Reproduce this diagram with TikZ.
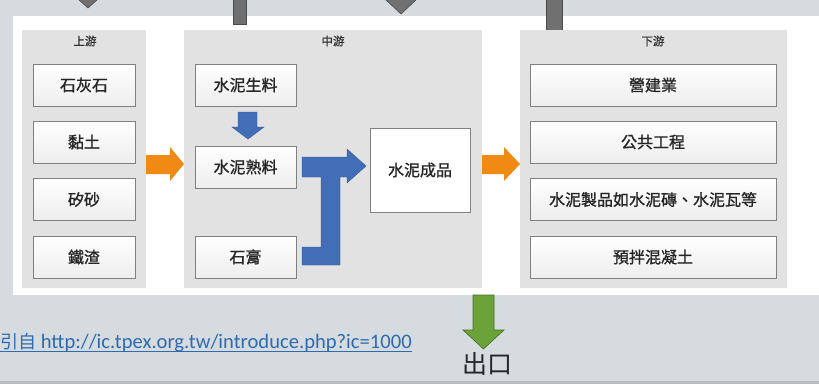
\documentclass[tikz,border=0pt]{standalone}
\usepackage{fontspec}
\newfontfamily\cjk{Noto Sans CJK TC}
\newfontfamily\cjkb[FakeBold=1.2]{Noto Sans CJK TC}
\newfontfamily\calib{Carlito}
\definecolor{bg}{HTML}{D6DBDF}
\definecolor{panel}{HTML}{E2E2E2}
\definecolor{boxline}{HTML}{808080}
\definecolor{orangeA}{HTML}{F08A14}
\definecolor{blueA}{HTML}{416EB6}
\definecolor{blueB}{HTML}{2F5A9A}
\definecolor{greenA}{HTML}{6BA33A}
\definecolor{greenB}{HTML}{40701F}
\definecolor{greyA}{HTML}{707070}
\definecolor{greyB}{HTML}{4A4A4A}
\definecolor{linkc}{HTML}{2E6BB0}
\definecolor{bottomline}{HTML}{B9BEC2}
\tikzset{
  panelbox/.style={fill=panel, draw=none, inner sep=0pt, outer sep=0pt},
  itembox/.style={draw=boxline, line width=0.8pt, top color=white, bottom color=black!7,
    font=\cjkb\fontsize{16}{16}\selectfont, text=black!85, inner sep=0pt, outer sep=0pt, minimum height=42pt},
  paneltitle/.style={font=\cjkb\fontsize{11.5}{11.5}\selectfont, text=black!80, inner sep=0pt},
  orangearrow/.style={fill=orangeA, draw=none},
  bluearrow/.style={fill=blueA, draw=blueB, line width=0.4pt},
  greenarrow/.style={fill=greenA, draw=greenB, line width=0.6pt},
  greymark/.style={fill=greyA, draw=greyB, line width=0.6pt}
}
\begin{document}
\begin{tikzpicture}[x=1pt,y=-1pt]
\useasboundingbox (0,0) rectangle (819,383);
\clip (0,0) rectangle (819,383);
% backgrounds
\fill[bg] (0,0) rectangle (819,383);
\fill[white] (13,16) rectangle (820,295);
\fill[bottomline] (0,381) rectangle (819,384);
% top grey marks
\draw[greymark] (78,-1) -- (98,-1) -- (88,8) -- cycle;
\draw[greymark] (233,-2) rectangle (246,24);
\draw[greymark] (385,-1) -- (417,-1) -- (401,14) -- cycle;
\draw[greymark] (546,-2) rectangle (562,30);
% panels
\node[panelbox, minimum width=124pt, minimum height=258pt] (up) at (84,159) {};
\node[panelbox, minimum width=298pt, minimum height=258pt] (mid) at (333,159) {};
\node[panelbox, minimum width=267pt, minimum height=258pt] (down) at (653.5,159) {};
\node[paneltitle] (upt) at (85,41) {上游};
\node[paneltitle] (midt) at (333,41) {中游};
\node[paneltitle] (downt) at (653,41) {下游};
% upstream items
\node[itembox, minimum width=102pt] (u1) at (84,85) {石灰石};
\node[itembox, minimum width=102pt] (u2) at (84,142) {黏土};
\node[itembox, minimum width=102pt] (u3) at (84,199.5) {矽砂};
\node[itembox, minimum width=102pt] (u4) at (84,257) {鐵渣};
% midstream items
\node[itembox, minimum width=101pt] (m1) at (245.5,85) {水泥生料};
\node[itembox, minimum width=101pt] (m2) at (245.5,167) {水泥熟料};
\node[itembox, minimum width=101pt] (m3) at (245.5,257) {石膏};
\node[itembox, minimum width=100pt, minimum height=84pt, top color=white, bottom color=white] (m4) at (420,170) {水泥成品};
% downstream items
\node[itembox, minimum width=246pt] (d1) at (653,85) {營建業};
\node[itembox, minimum width=246pt] (d2) at (653,142) {公共工程};
\node[itembox, minimum width=246pt] (d3) at (653,199.5) {水泥製品如水泥磚、水泥瓦等};
\node[itembox, minimum width=246pt] (d4) at (653,257) {預拌混凝土};
% orange arrows
\fill[orangearrow] (146,155) -- (170,155) -- (170,147) -- (184,164) -- (170,181) -- (170,174) -- (146,174) -- cycle;
\fill[orangearrow] (482,155) -- (504,155) -- (504,147) -- (520,164) -- (504,181) -- (504,174) -- (482,174) -- cycle;
% small blue arrow
\draw[bluearrow] (238,112) -- (257,112) -- (257,127) -- (264,127) -- (248,139) -- (232,127) -- (238,127) -- cycle;
% T-shaped blue arrow
\draw[bluearrow] (302,157) -- (347,157) -- (347,149) -- (366,166) -- (347,183) -- (347,177) -- (340,177)
  -- (340,265) -- (302,265) -- (302,247) -- (321,247) -- (321,177) -- (302,177) -- cycle;
% green arrow
\draw[greenarrow] (473,295) -- (494,295) -- (494,330) -- (504,330) -- (483.5,349) -- (463,330) -- (473,330) -- cycle;
\node[font=\cjk\fontsize{25}{25}\selectfont, inner sep=0pt, text=black!85] (exit) at (487,364) {出口};
% link
\node[anchor=base east, font=\calib\fontsize{20.6}{20.6}\selectfont, text=linkc, inner sep=0pt] (url) at (412,348)
  {{\cjk\fontsize{18}{18}\selectfont 引自} http://ic.tpex.org.tw/introduce.php?ic=1000};
\draw[linkc, line width=0.8pt] (url.south west |- 0,351.5) -- (url.south east |- 0,351.5);
\end{tikzpicture}
\end{document}
